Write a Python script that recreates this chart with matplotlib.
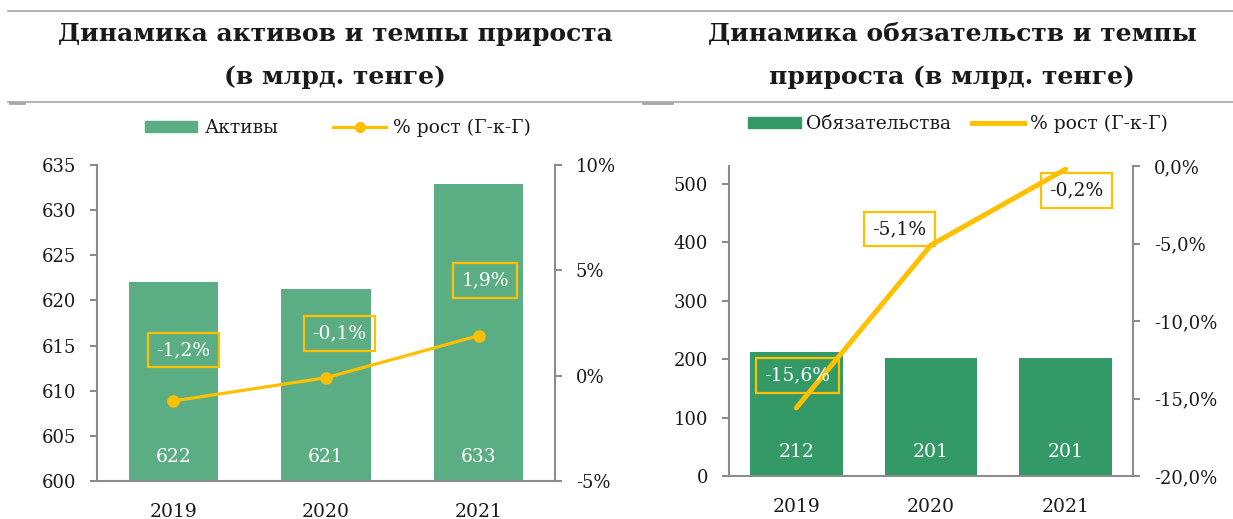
import matplotlib
matplotlib.use("Agg")
import matplotlib.pyplot as plt
from matplotlib.lines import Line2D
from matplotlib.patches import Patch
import numpy as np

# ---------------- data ----------------
years = ["2019", "2020", "2021"]

assets = [622.0, 621.3, 632.9]
assets_labels = ["622", "621", "633"]
assets_growth = [-1.2, -0.1, 1.9]
assets_growth_labels = ["-1,2%", "-0,1%", "1,9%"]
assets_yticks = [600, 605, 610, 615, 620, 625, 630, 635]
assets_y2ticks = [-5, 0, 5, 10]
assets_y2labels = ["-5%", "0%", "5%", "10%"]

liab = [212, 201, 201]
liab_labels = ["212", "201", "201"]
liab_growth = [-15.6, -5.1, -0.2]
liab_growth_labels = ["-15,6%", "-5,1%", "-0,2%"]
liab_yticks = [0, 100, 200, 300, 400, 500]
liab_y2ticks = [-20, -15, -10, -5, 0]
liab_y2labels = ["-20,0%", "-15,0%", "-10,0%", "-5,0%", "0,0%"]

title_left = ["Динамика активов и темпы прироста", "(в млрд. тенге)"]
title_right = ["Динамика обязательств и темпы", "прироста (в млрд. тенге)"]
legend_left = ["Активы", "% рост (Г-к-Г)"]
legend_right = ["Обязательства", "% рост (Г-к-Г)"]

# ---------------- style ----------------
FONT = "DejaVu Serif"
plt.rcParams["font.family"] = [FONT]
GREEN_L = "#5BAE84"
GREEN_R = "#339966"
YEL = "#FFC000"
GRAY = "#8C8C8C"
LINEGRAY = "#A6A6A6"
TXT = "#1A1A1A"

W, H = 1233, 519
fig = plt.figure(figsize=(W / 100, H / 100), dpi=100)


def fx(px):
    return px / W


def fy(py):
    return 1 - py / H


# header lines
for y in (11, 102):
    fig.add_artist(Line2D([fx(8), 1], [fy(y), fy(y)], color=LINEGRAY, lw=1.2))
fig.add_artist(Line2D([fx(10), fx(24)], [fy(102.5), fy(102.5)], color=LINEGRAY, lw=2))
fig.add_artist(Line2D([fx(643), fx(672)], [fy(102.5), fy(102.5)], color=LINEGRAY, lw=2))

# titles
for cx, lines in ((335, title_left), (952, title_right)):
    for line, by in zip(lines, (41, 84)):
        fig.text(fx(cx), fy(by), line, ha="center", va="baseline",
                 fontsize=18, fontweight="bold", color=TXT, family=FONT)


def style_axes(ax, ax2):
    for a in (ax, ax2):
        for s in a.spines.values():
            s.set_visible(False)
        a.tick_params(colors=GRAY, labelcolor=TXT, labelsize=13, width=1.5, length=5,
                      direction="out")
    ax.spines["left"].set_visible(True)
    ax.spines["bottom"].set_visible(True)
    ax2.spines["right"].set_visible(True)
    for k in ("left", "bottom"):
        ax.spines[k].set_color(GRAY)
        ax.spines[k].set_linewidth(1.5)
    ax2.spines["right"].set_color(GRAY)
    ax2.spines["right"].set_linewidth(1.5)
    ax.tick_params(axis="x", length=0, pad=16, labelsize=13.5)
    ax.tick_params(axis="y", pad=10)
    ax2.tick_params(axis="y", pad=10)
    ax.set_zorder(1)
    ax2.set_zorder(2)
    ax.patch.set_visible(False)
    ax2.patch.set_visible(False)


BOX = dict(boxstyle="square,pad=0.45", fc="none", ec=YEL, lw=1.6)

# ---------------- left chart ----------------
axL = fig.add_axes([fx(97), fy(481), fx(555 - 97), (481 - 165) / H])
axL2 = axL.twinx()
x = np.arange(len(years))
axL.bar(x, assets, width=0.585, color=GREEN_L, zorder=1)
axL.set_xlim(-0.5, 2.5)
axL.set_ylim(600, 635)
axL.set_yticks(assets_yticks)
axL.set_xticks(x)
axL.set_xticklabels(years)
axL2.set_ylim(-5, 10)
axL2.set_yticks(assets_y2ticks)
axL2.set_yticklabels(assets_y2labels)
axL2.plot(x, assets_growth, color=YEL, lw=2.3, marker="o", ms=8, zorder=3)
style_axes(axL, axL2)

for xi, lab in zip(x, assets_labels):
    axL.annotate(lab, (xi, 600), xytext=(0, 17), textcoords="offset points",
                 ha="center", va="center", color="white", fontsize=13.5)

offL = [(10, -51), (13, -44), (6.5, -55)]
for xi, v, lab, (dx, dy) in zip(x, assets_growth, assets_growth_labels, offL):
    axL2.annotate(lab, (xi, v), xytext=(dx * 0.72, -dy * 0.72), textcoords="offset points",
                  ha="center", va="center", color="white", fontsize=13.5,
                  bbox=BOX, zorder=4)

hL = [Patch(color=GREEN_L), Line2D([], [], color=YEL, lw=2.3, marker="o", ms=7)]
fig.legend(hL, legend_left, loc="center", bbox_to_anchor=(fx(338), fy(128)),
           ncol=2, frameon=False, fontsize=13.5, handlelength=2.8, handleheight=0.6,
           handletextpad=0.4, columnspacing=2.9, labelcolor=TXT)

# ---------------- right chart ----------------
axR = fig.add_axes([fx(729), fy(476), fx(1133 - 729), (476 - 166) / H])
axR2 = axR.twinx()
axR.bar(x, liab, width=0.69, color=GREEN_R, zorder=1)
axR.set_xlim(-0.5, 2.5)
axR.set_ylim(0, 530)
axR.set_yticks(liab_yticks)
axR.set_xticks(x)
axR.set_xticklabels(years)
axR2.set_ylim(-20, 0)
axR2.set_yticks(liab_y2ticks)
axR2.set_yticklabels(liab_y2labels)
axR2.plot(x, liab_growth, color=YEL, lw=3.6, solid_capstyle="round", zorder=3)
style_axes(axR, axR2)

for xi, lab in zip(x, liab_labels):
    axR.annotate(lab, (xi, 0), xytext=(0, 17), textcoords="offset points",
                 ha="center", va="center", color="white", fontsize=13.5)

offR = [(1, -32.5), (-31.5, -16), (10.5, 21)]
colR = ["white", TXT, TXT]
for xi, v, lab, (dx, dy), c in zip(x, liab_growth, liab_growth_labels, offR, colR):
    axR2.annotate(lab, (xi, v), xytext=(dx * 0.72, -dy * 0.72), textcoords="offset points",
                  ha="center", va="center", color=c, fontsize=13.5,
                  bbox=BOX, zorder=4)

hR = [Patch(color=GREEN_R), Line2D([], [], color=YEL, lw=3.6)]
fig.legend(hR, legend_right, loc="center", bbox_to_anchor=(fx(958), fy(124)),
           ncol=2, frameon=False, fontsize=13.5, handlelength=2.8, handleheight=0.6,
           handletextpad=0.3, columnspacing=1.1, labelcolor=TXT)

fig.savefig("out.png", dpi=100)
